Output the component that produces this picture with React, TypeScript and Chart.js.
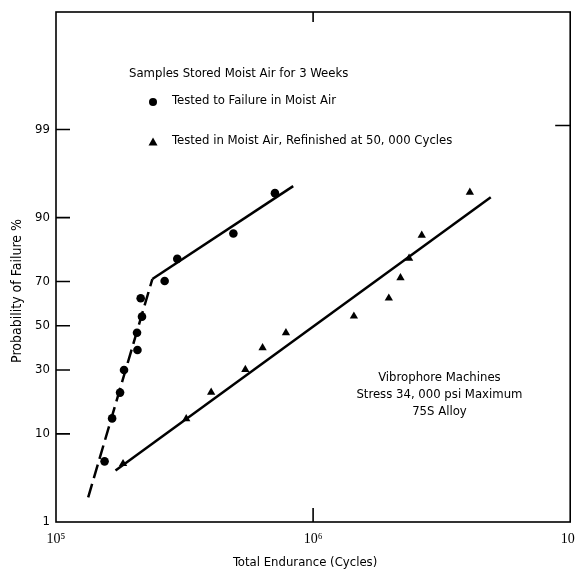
import React, { useEffect, useRef } from "react";
import { Chart, registerables } from "chart.js";

Chart.register(...registerables);

// ---- data ----
const yTickPercents = [1, 10, 30, 50, 70, 90, 99];
const xTickValues = [1e5, 1e6, 1e7];
const xTickLabels = ["10\u2075", "10\u2076", "10\u2077"];

const moistCycles = [154500, 165300, 177500, 183900, 207400, 206600, 216000, 213500, 264600, 296300, 489700, 710600];
const moistProb = [5.4, 13.6, 21.4, 30.0, 38.7, 46.7, 54.3, 62.8, 70.2, 78.6, 86.3, 94.2];

const refinCycles = [182300, 321000, 401300, 545000, 636000, 784000, 1441000, 1970000, 2187000, 2362000, 2646000, 4071000];
const refinProb = [5.1, 13.5, 21.5, 30.2, 39.7, 46.7, 54.5, 62.8, 71.5, 78.8, 85.8, 94.3];

const moistFitCycles = [133400, 237000, 836700];
const moistFitProb = [2.1, 71.0, 95.1];

const refinFitCycles = [170400, 4909000];
const refinFitProb = [4.3, 93.6];

const legendTitle = "Samples Stored Moist Air for 3 Weeks";
const legendItems = ["Tested to Failure in Moist Air", "Tested in Moist Air, Refinished at 50, 000 Cycles"];
const noteLines = ["Vibrophore Machines", "Stress 34, 000 psi Maximum", "75S Alloy"];
const xTitle = "Total Endurance (Cycles)";
const yTitle = "Probability of Failure %";

// inverse normal CDF (Acklam) – maps a percentage onto the probability-paper axis
function probit(percent: number): number {
  const p = percent / 100;
  const a = [-3.969683028665376e1, 2.209460984245205e2, -2.759285104469687e2, 1.38357751867269e2, -3.066479806614716e1, 2.506628277459239];
  const b = [-5.447609879822406e1, 1.615858368580409e2, -1.556989798598866e2, 6.680131188771972e1, -1.328068155288572e1];
  const c = [-7.784894002430293e-3, -3.223964580411365e-1, -2.400758277161838, -2.549732539343734, 4.374664141464968, 2.938163982698783];
  const d = [7.784695709041462e-3, 3.224671290700398e-1, 2.445134137142996, 3.754408661907416];
  const pl = 0.02425;
  let q: number, r: number;
  if (p < pl) {
    q = Math.sqrt(-2 * Math.log(p));
    return (((((c[0] * q + c[1]) * q + c[2]) * q + c[3]) * q + c[4]) * q + c[5]) / ((((d[0] * q + d[1]) * q + d[2]) * q + d[3]) * q + 1);
  }
  if (p > 1 - pl) {
    q = Math.sqrt(-2 * Math.log(1 - p));
    return -(((((c[0] * q + c[1]) * q + c[2]) * q + c[3]) * q + c[4]) * q + c[5]) / ((((d[0] * q + d[1]) * q + d[2]) * q + d[3]) * q + 1);
  }
  q = p - 0.5;
  r = q * q;
  return ((((((a[0] * r + a[1]) * r + a[2]) * r + a[3]) * r + a[4]) * r + a[5]) * q) / (((((b[0] * r + b[1]) * r + b[2]) * r + b[3]) * r + b[4]) * r + 1);
}

const toPoints = (xs: number[], ps: number[]) => xs.map((x, i) => ({ x, y: probit(ps[i]) }));

const FONT = "'DejaVu Sans Condensed', 'Liberation Sans Narrow', 'DejaVu Sans', sans-serif";

const decorPlugin = {
  id: "decor",
  afterDraw(chart: any) {
    const { ctx, chartArea } = chart;
    const { left, right, top, bottom } = chartArea;
    const xs = chart.scales.x;
    const ys = chart.scales.y;
    ctx.save();
    ctx.strokeStyle = "#000";
    ctx.fillStyle = "#000";
    ctx.lineWidth = 1.6;
    ctx.strokeRect(left, top, right - left, bottom - top);

    // inward tick marks
    ctx.beginPath();
    yTickPercents.slice(1).forEach((p) => {
      const y = ys.getPixelForValue(probit(p));
      ctx.moveTo(left, y);
      ctx.lineTo(left + 14, y);
    });
    const y99 = ys.getPixelForValue(probit(99)) - 4;
    ctx.moveTo(right, y99);
    ctx.lineTo(right - 15, y99);
    const xm = xs.getPixelForValue(1e6);
    ctx.moveTo(xm, bottom);
    ctx.lineTo(xm, bottom - 14);
    ctx.moveTo(xm, top);
    ctx.lineTo(xm, top + 10);
    ctx.stroke();

    // legend
    ctx.font = `13px ${FONT}`;
    ctx.textBaseline = "middle";
    ctx.textAlign = "left";
    ctx.fillText(legendTitle, left + 73, top + 62);
    ctx.beginPath();
    ctx.arc(left + 97, top + 90, 4, 0, Math.PI * 2);
    ctx.fill();
    ctx.fillText(legendItems[0], left + 116, top + 89);
    const tx = left + 97, ty = top + 130;
    ctx.beginPath();
    ctx.moveTo(tx, ty - 4.5);
    ctx.lineTo(tx + 4.5, ty + 3.5);
    ctx.lineTo(tx - 4.5, ty + 3.5);
    ctx.closePath();
    ctx.fill();
    ctx.fillText(legendItems[1], left + 116, top + 129);

    // annotation
    ctx.textAlign = "center";
    const nx = xs.getPixelForValue(3.1e6);
    const ny = ys.getPixelForValue(probit(27));
    noteLines.forEach((t, i) => ctx.fillText(t, nx, ny + i * 17));

    // axis titles
    ctx.fillText(xTitle, (left + right) / 2 - 8, bottom + 41);
    ctx.font = `14px ${FONT}`;
    ctx.translate(17, ys.getPixelForValue(probit(66)));
    ctx.rotate(-Math.PI / 2);
    ctx.fillText(yTitle, 0, 0);
    ctx.restore();
  },
};

export default function App() {
  const ref = useRef<HTMLCanvasElement | null>(null);
  useEffect(() => {
    if (!ref.current) return;
    const chart = new Chart(ref.current, {
      type: "scatter",
      data: {
        datasets: [
          {
            label: "moist fit",
            data: toPoints(moistFitCycles, moistFitProb),
            showLine: true,
            borderColor: "#000",
            borderWidth: 2.5,
            pointRadius: 0,
            segment: { borderDash: (c: any) => (c.p0DataIndex === 0 ? [14, 6] : undefined) },
          },
          {
            label: "refinished fit",
            data: toPoints(refinFitCycles, refinFitProb),
            showLine: true,
            borderColor: "#000",
            borderWidth: 2.5,
            pointRadius: 0,
          },
          {
            label: legendItems[0],
            data: toPoints(moistCycles, moistProb),
            pointStyle: "circle",
            pointRadius: 4.3,
            backgroundColor: "#000",
            borderColor: "#000",
            borderWidth: 0,
          },
          {
            label: legendItems[1],
            data: toPoints(refinCycles, refinProb),
            pointStyle: "triangle",
            pointRadius: 4.8,
            backgroundColor: "#000",
            borderColor: "#000",
            borderWidth: 0,
          },
        ],
      },
      options: {
        responsive: false,
        animation: false,
        layout: { padding: { top: 12, right: 3, left: 0, bottom: 0 } },
        plugins: { legend: { display: false }, tooltip: { enabled: false } },
        scales: {
          x: {
            type: "logarithmic",
            min: 1e5,
            max: 1e7,
            grid: { display: false, drawTicks: false },
            border: { display: false },
            afterBuildTicks: (s: any) => {
              s.ticks = xTickValues.map((v) => ({ value: v }));
            },
            afterFit: (s: any) => {
              s.height = 52;
              s.paddingLeft = 0;
              s.paddingRight = 0;
            },
            ticks: {
              autoSkip: false,
              maxRotation: 0,
              padding: 9,
              color: "#000",
              font: { family: "'Liberation Serif', 'DejaVu Serif', serif", size: 14 },
              callback: (_v: any, i: number) => xTickLabels[i],
            },
          },
          y: {
            type: "linear",
            min: probit(1),
            max: probit(99.99),
            grid: { display: false, drawTicks: false },
            border: { display: false },
            afterBuildTicks: (s: any) => {
              s.ticks = yTickPercents.map((p) => ({ value: probit(p) }));
            },
            afterFit: (s: any) => {
              s.width = 56;
              s.paddingTop = 0;
              s.paddingBottom = 0;
            },
            ticks: {
              autoSkip: false,
              padding: 6,
              color: "#000",
              font: { family: FONT, size: 13 },
              callback: (_v: any, i: number) => String(yTickPercents[i]),
            },
          },
        },
      },
      plugins: [decorPlugin],
    } as any);
    return () => chart.destroy();
  }, []);
  return (
    <div style={{ position: "absolute", left: 0, top: 0, width: 575, height: 574, background: "#fff" }}>
      <canvas ref={ref} width={575} height={574} />
    </div>
  );
}
